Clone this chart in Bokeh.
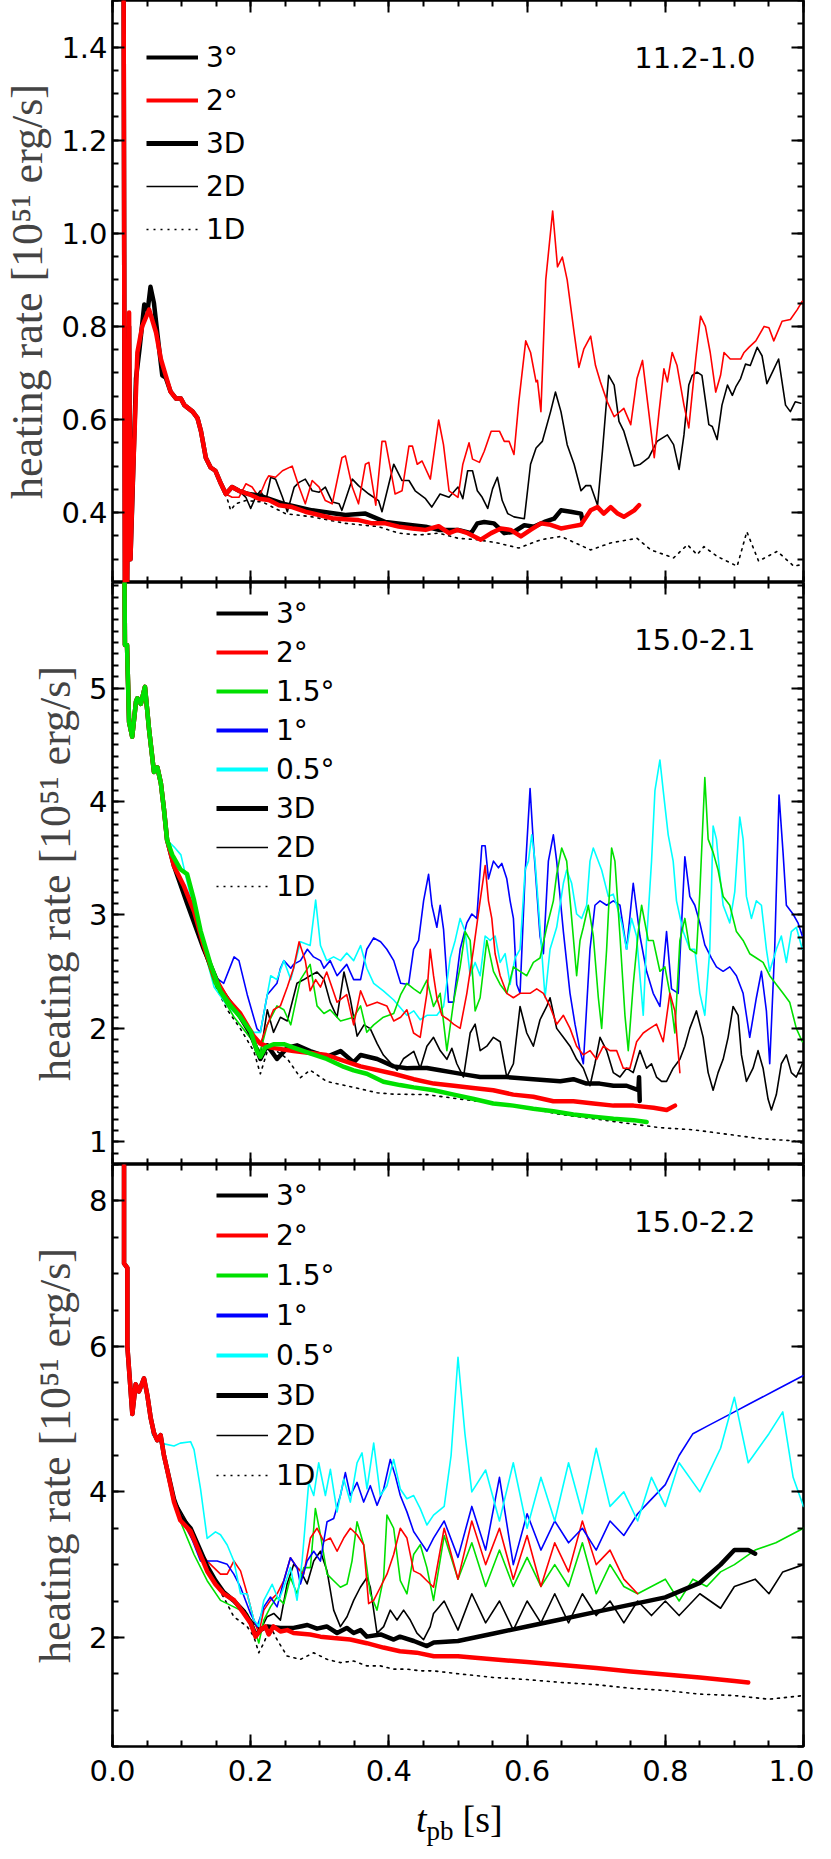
from bokeh.plotting import figure
from bokeh.layouts import column
from bokeh.models import (Range1d, LinearAxis, FixedTicker, PrintfTickFormatter,
                          CustomJSTickFormatter, Label, Legend, LegendItem, Div)
from bokeh.core.properties import value
from bokeh.embed import file_html
from bokeh.resources import INLINE

# ---------------------------------------------------------------- data
PANEL_NAMES = ["11.2-1.0", "15.0-2.1", "15.0-2.2"]
Y_LIMITS = [(0.25, 1.5), (0.8, 5.93), (0.5, 8.5)]
Y_MAJOR = [[0.4, 0.6, 0.8, 1.0, 1.2, 1.4], [1, 2, 3, 4, 5], [2, 4, 6, 8]]
Y_MINOR_STEP = [0.05, 0.1, 0.5]
X_MAJOR = [0.0, 0.2, 0.4, 0.6, 0.8, 1.0]
X_MINOR_STEP = 0.05
Y_TITLE = "heating rate [10\u2075\u00b9 erg/s]"
X_TITLE_PARTS = ["t", "pb", "[s]"]

# ---- panel 1 : 11.2-1.0
P1_RED3D = [(0.016, 1.60), (0.018, 0.20), (0.021, 0.20), (0.024, 0.83), (0.026, 0.30), (0.029, 0.45),
            (0.036, 0.744), (0.043, 0.80), (0.053, 0.836), (0.063, 0.787), (0.070, 0.73), (0.077, 0.695),
            (0.084, 0.66), (0.092, 0.645), (0.099, 0.645), (0.104, 0.631), (0.116, 0.617), (0.123, 0.603),
            (0.128, 0.575), (0.135, 0.518), (0.142, 0.497), (0.149, 0.49), (0.157, 0.462), (0.164, 0.44),
            (0.173, 0.455), (0.183, 0.447), (0.197, 0.44), (0.212, 0.43), (0.226, 0.427), (0.241, 0.416),
            (0.260, 0.412), (0.279, 0.402), (0.299, 0.395), (0.318, 0.388), (0.337, 0.386), (0.356, 0.384),
            (0.376, 0.377), (0.395, 0.377), (0.414, 0.37), (0.434, 0.366), (0.453, 0.363), (0.472, 0.371),
            (0.487, 0.356), (0.499, 0.363), (0.514, 0.356), (0.533, 0.342), (0.548, 0.356), (0.562, 0.366),
            (0.576, 0.363), (0.591, 0.349), (0.605, 0.363), (0.620, 0.377), (0.634, 0.374), (0.649, 0.366),
            (0.663, 0.37), (0.678, 0.374), (0.692, 0.405), (0.702, 0.412), (0.711, 0.398), (0.721, 0.412),
            (0.731, 0.398), (0.740, 0.391), (0.755, 0.405), (0.762, 0.416)]
P1_BLK3D = [(0.016, 1.6), (0.018, 0.2), (0.021, 0.2), (0.024, 0.8), (0.026, 0.3), (0.029, 0.44),
            (0.034, 0.688), (0.039, 0.75), (0.046, 0.847), (0.051, 0.836), (0.055, 0.885), (0.060, 0.85),
            (0.067, 0.758), (0.072, 0.695), (0.077, 0.69), (0.084, 0.66), (0.092, 0.645), (0.099, 0.645),
            (0.104, 0.631), (0.116, 0.617), (0.123, 0.603), (0.128, 0.575), (0.135, 0.518), (0.142, 0.497),
            (0.149, 0.49), (0.157, 0.462), (0.164, 0.44), (0.173, 0.455), (0.183, 0.447), (0.197, 0.44),
            (0.212, 0.437), (0.25, 0.418), (0.289, 0.405), (0.337, 0.395), (0.366, 0.398), (0.395, 0.38),
            (0.434, 0.373), (0.453, 0.37), (0.472, 0.363), (0.5, 0.363), (0.519, 0.356), (0.528, 0.377),
            (0.538, 0.38), (0.552, 0.377), (0.567, 0.356), (0.581, 0.359), (0.596, 0.373), (0.61, 0.37),
            (0.625, 0.38), (0.639, 0.387), (0.649, 0.405), (0.663, 0.402), (0.678, 0.398), (0.68, 0.384)]
P1_RED2D = [(0.173, 0.433), (0.183, 0.433), (0.193, 0.462), (0.202, 0.455), (0.212, 0.433), (0.222, 0.469),
            (0.226, 0.479), (0.236, 0.476), (0.246, 0.49), (0.26, 0.5), (0.27, 0.455), (0.279, 0.419),
            (0.289, 0.469), (0.299, 0.455), (0.308, 0.426), (0.318, 0.419), (0.332, 0.518), (0.337, 0.522),
            (0.347, 0.455), (0.356, 0.419), (0.366, 0.504), (0.371, 0.508), (0.381, 0.416), (0.39, 0.553),
            (0.395, 0.553), (0.409, 0.44), (0.419, 0.447), (0.429, 0.543), (0.434, 0.543), (0.441, 0.504),
            (0.448, 0.511), (0.46, 0.472), (0.472, 0.599), (0.479, 0.546), (0.487, 0.447), (0.5, 0.433),
            (0.507, 0.504), (0.516, 0.55), (0.521, 0.515), (0.531, 0.508), (0.538, 0.532), (0.548, 0.575),
            (0.56, 0.575), (0.567, 0.553), (0.574, 0.553), (0.581, 0.525), (0.588, 0.638), (0.598, 0.769),
            (0.605, 0.744), (0.613, 0.681), (0.615, 0.684), (0.62, 0.617), (0.627, 0.9), (0.637, 1.048),
            (0.644, 0.928), (0.651, 0.949), (0.658, 0.9), (0.668, 0.787), (0.675, 0.712), (0.682, 0.751),
            (0.692, 0.779), (0.699, 0.716), (0.706, 0.681), (0.716, 0.638), (0.726, 0.606), (0.74, 0.624),
            (0.75, 0.589), (0.759, 0.688), (0.767, 0.727), (0.776, 0.617), (0.784, 0.518), (0.791, 0.617),
            (0.798, 0.709), (0.803, 0.681), (0.81, 0.744), (0.817, 0.716), (0.827, 0.631), (0.834, 0.582),
            (0.844, 0.73), (0.851, 0.822), (0.858, 0.8), (0.865, 0.744), (0.873, 0.659), (0.88, 0.695),
            (0.885, 0.744), (0.894, 0.73), (0.909, 0.73), (0.914, 0.744), (0.921, 0.755), (0.931, 0.769),
            (0.943, 0.8), (0.95, 0.797), (0.957, 0.769), (0.969, 0.811), (0.981, 0.815), (0.991, 0.836),
            (0.998, 0.854)]
P1_BLK2D = [(0.173, 0.455), (0.183, 0.447), (0.193, 0.433), (0.2, 0.409), (0.207, 0.433), (0.214, 0.447),
            (0.222, 0.426), (0.229, 0.476), (0.236, 0.472), (0.246, 0.433), (0.253, 0.402), (0.263, 0.455),
            (0.27, 0.465), (0.279, 0.472), (0.289, 0.447), (0.299, 0.444), (0.308, 0.455), (0.318, 0.423),
            (0.328, 0.419), (0.332, 0.405), (0.347, 0.472), (0.356, 0.458), (0.371, 0.44), (0.385, 0.426),
            (0.39, 0.402), (0.4, 0.462), (0.407, 0.504), (0.419, 0.469), (0.429, 0.469), (0.438, 0.447),
            (0.453, 0.43), (0.462, 0.412), (0.474, 0.44), (0.487, 0.433), (0.5, 0.455), (0.507, 0.43),
            (0.514, 0.49), (0.521, 0.49), (0.528, 0.447), (0.535, 0.433), (0.543, 0.409), (0.55, 0.451),
            (0.557, 0.476), (0.564, 0.426), (0.572, 0.398), (0.581, 0.391), (0.596, 0.387), (0.605, 0.504),
            (0.613, 0.539), (0.622, 0.553), (0.634, 0.617), (0.641, 0.659), (0.649, 0.617), (0.658, 0.546),
            (0.668, 0.504), (0.678, 0.447), (0.685, 0.458), (0.692, 0.458), (0.702, 0.416), (0.709, 0.532),
            (0.718, 0.695), (0.726, 0.674), (0.733, 0.596), (0.74, 0.575), (0.75, 0.525), (0.755, 0.5),
            (0.764, 0.504), (0.776, 0.518), (0.788, 0.553), (0.803, 0.567), (0.812, 0.546), (0.82, 0.493),
            (0.827, 0.567), (0.834, 0.674), (0.839, 0.695), (0.846, 0.702), (0.853, 0.695), (0.863, 0.589),
            (0.868, 0.585), (0.875, 0.557), (0.882, 0.631), (0.89, 0.674), (0.897, 0.652), (0.902, 0.67),
            (0.909, 0.688), (0.916, 0.719), (0.923, 0.716), (0.933, 0.755), (0.94, 0.737), (0.947, 0.677),
            (0.955, 0.702), (0.964, 0.73), (0.974, 0.631), (0.981, 0.617), (0.988, 0.638), (0.996, 0.635)]
P1_DOT1D = [(0.171, 0.405), (0.178, 0.419), (0.193, 0.426), (0.217, 0.423), (0.241, 0.405), (0.25, 0.398),
            (0.289, 0.391), (0.337, 0.377), (0.385, 0.37), (0.414, 0.356), (0.443, 0.352), (0.472, 0.356),
            (0.5, 0.345), (0.528, 0.342), (0.557, 0.335), (0.588, 0.324), (0.62, 0.342), (0.649, 0.349),
            (0.692, 0.32), (0.721, 0.335), (0.759, 0.345), (0.779, 0.32), (0.812, 0.303), (0.832, 0.331),
            (0.846, 0.31), (0.856, 0.327), (0.875, 0.306), (0.904, 0.285), (0.918, 0.359), (0.935, 0.296),
            (0.962, 0.317), (0.986, 0.285), (0.999, 0.289)]

# ---- panel 2 : 15.0-2.1
P2_EARLY = [(0.017, 6.3), (0.018, 5.38), (0.021, 5.38), (0.024, 4.7), (0.0285, 4.57), (0.034, 4.88),
            (0.036, 4.91), (0.041, 4.86), (0.047, 5.01), (0.053, 4.63), (0.06, 4.26), (0.065, 4.3),
            (0.07, 4.16), (0.0745, 3.93), (0.079, 3.66)]
P2_GREEN3D = [(0.0865, 3.53), (0.0986, 3.40), (0.108, 3.36), (0.118, 3.13), (0.1275, 2.86), (0.142, 2.56),
              (0.156, 2.33), (0.171, 2.2), (0.185, 2.1), (0.2, 1.97), (0.209, 1.8), (0.214, 1.75),
              (0.221, 1.83), (0.233, 1.86), (0.248, 1.86), (0.262, 1.83), (0.286, 1.78), (0.31, 1.73),
              (0.335, 1.66), (0.349, 1.63), (0.368, 1.6), (0.392, 1.53), (0.416, 1.5), (0.436, 1.48),
              (0.465, 1.455), (0.494, 1.416), (0.523, 1.377), (0.551, 1.338), (0.58, 1.319), (0.609, 1.292),
              (0.638, 1.269), (0.667, 1.241), (0.696, 1.222), (0.725, 1.203), (0.754, 1.191), (0.773, 1.175)]
P2_RED3D = [(0.089, 3.43), (0.103, 3.26), (0.118, 3.03), (0.132, 2.73), (0.147, 2.46), (0.166, 2.26),
            (0.185, 2.13), (0.2045, 1.93), (0.214, 1.865), (0.229, 1.83), (0.262, 1.80), (0.31, 1.765),
            (0.359, 1.665), (0.407, 1.6), (0.436, 1.552), (0.465, 1.513), (0.494, 1.494), (0.522, 1.474),
            (0.551, 1.455), (0.58, 1.416), (0.609, 1.397), (0.638, 1.358), (0.667, 1.358), (0.696, 1.338),
            (0.725, 1.319), (0.754, 1.319), (0.783, 1.3), (0.802, 1.28), (0.814, 1.319)]
P2_BLK3D = [(0.089, 3.43), (0.108, 3.1), (0.132, 2.7), (0.156, 2.35), (0.185, 2.1), (0.2, 1.95),
            (0.214, 1.73), (0.224, 1.85), (0.238, 1.73), (0.253, 1.83), (0.267, 1.85), (0.286, 1.8),
            (0.31, 1.75), (0.33, 1.8), (0.349, 1.7), (0.359, 1.765), (0.383, 1.73), (0.407, 1.665),
            (0.426, 1.649), (0.436, 1.65), (0.455, 1.65), (0.474, 1.63), (0.494, 1.61), (0.513, 1.59),
            (0.532, 1.571), (0.551, 1.571), (0.57, 1.571), (0.609, 1.552), (0.648, 1.533), (0.667, 1.552),
            (0.686, 1.513), (0.705, 1.513), (0.725, 1.494), (0.744, 1.494), (0.761, 1.455), (0.762, 1.57),
            (0.763, 1.36)]
P2_BLUE2D = [(0.089, 3.43), (0.103, 3.26), (0.118, 3.03), (0.132, 2.73), (0.147, 2.46), (0.161, 2.397),
             (0.176, 2.63), (0.183, 2.597), (0.195, 2.297), (0.209, 1.998), (0.214, 1.965), (0.224, 2.297),
             (0.238, 2.397), (0.243, 2.53), (0.248, 2.597), (0.258, 2.53), (0.262, 2.564), (0.272, 2.597),
             (0.282, 2.697), (0.291, 2.63), (0.301, 2.597), (0.306, 2.53), (0.315, 2.597), (0.325, 2.464),
             (0.339, 2.564), (0.349, 2.43), (0.359, 2.43), (0.368, 2.697), (0.378, 2.797), (0.388, 2.763),
             (0.397, 2.697), (0.407, 2.597), (0.417, 2.397), (0.4285, 2.387), (0.4357, 2.697), (0.443, 2.775),
             (0.4502, 3.124), (0.4574, 3.357), (0.4622, 3.085), (0.4694, 2.891), (0.4742, 3.085),
             (0.4791, 2.872), (0.4863, 2.231), (0.4935, 2.231), (0.5031, 2.697), (0.5128, 2.93), (0.52, 3.008),
             (0.5272, 2.969), (0.5345, 3.61), (0.5393, 3.61), (0.5441, 3.318), (0.5513, 3.474), (0.5585, 3.415),
             (0.5634, 3.454), (0.5706, 3.318), (0.5754, 3.124), (0.5802, 2.969), (0.585, 2.387), (0.5898, 2.309),
             (0.5971, 3.357), (0.6043, 4.114), (0.6091, 3.629), (0.6187, 2.814), (0.6236, 2.658), (0.6308, 3.474),
             (0.638, 3.706), (0.6428, 3.474), (0.6525, 2.853), (0.6621, 2.309), (0.6693, 2.037), (0.6766, 1.804),
             (0.6814, 1.688), (0.691, 2.697), (0.6982, 3.085), (0.7055, 3.124), (0.7151, 3.085), (0.7247, 3.124),
             (0.7344, 3.085), (0.744, 2.697), (0.7536, 3.279), (0.7633, 2.814), (0.7729, 2.503), (0.7825, 2.309),
             (0.7922, 2.193), (0.8018, 2.853), (0.809, 2.348), (0.8187, 2.309), (0.8283, 3.513), (0.8355, 3.163),
             (0.8427, 3.085), (0.85, 2.93), (0.8572, 2.736), (0.8668, 2.62), (0.874, 2.542), (0.8837, 2.503),
             (0.8933, 2.542), (0.9029, 2.464), (0.9126, 2.309), (0.9222, 1.921), (0.9318, 2.27), (0.9391, 2.503),
             (0.9463, 2.154), (0.9511, 1.688), (0.9583, 2.697), (0.9646, 4.056), (0.9704, 3.551), (0.9752, 3.085),
             (0.9848, 3.008), (0.992, 2.93), (0.9983, 2.814)]
P2_CYAN2D = [(0.089, 3.6), (0.099, 3.529), (0.118, 3.03), (0.147, 2.364), (0.166, 2.198), (0.185, 2.098),
             (0.2045, 1.965), (0.214, 1.965), (0.229, 2.464), (0.238, 2.43), (0.248, 2.597), (0.258, 2.43),
             (0.272, 2.763), (0.286, 2.73), (0.294, 3.13), (0.301, 2.73), (0.31, 2.597), (0.32, 2.63),
             (0.33, 2.597), (0.339, 2.664), (0.349, 2.597), (0.359, 2.73), (0.368, 2.53), (0.378, 2.397),
             (0.392, 2.331), (0.407, 2.25), (0.426, 2.115), (0.436, 2.154), (0.4453, 2.076), (0.455, 2.115),
             (0.4694, 2.115), (0.4791, 2.193), (0.4887, 2.62), (0.4959, 2.775), (0.5031, 2.969), (0.5104, 2.853),
             (0.5176, 2.464), (0.5248, 2.581), (0.5321, 2.464), (0.5393, 2.814), (0.5465, 2.775), (0.5537, 2.814),
             (0.561, 2.581), (0.5682, 2.658), (0.5754, 2.387), (0.5826, 2.62), (0.5898, 2.697), (0.5971, 3.396),
             (0.6019, 3.474), (0.6067, 3.706), (0.6115, 3.474), (0.6187, 2.891), (0.626, 2.27), (0.6332, 2.697),
             (0.6428, 2.891), (0.6525, 3.279), (0.6573, 3.396), (0.6645, 3.279), (0.6717, 3.008), (0.6789, 2.969),
             (0.6862, 3.085), (0.691, 3.474), (0.6958, 3.59), (0.7006, 3.513), (0.7079, 3.396), (0.7175, 3.163),
             (0.7247, 3.183), (0.7296, 3.085), (0.7368, 2.93), (0.744, 2.697), (0.7512, 2.969), (0.7584, 2.814),
             (0.7681, 2.115), (0.7729, 2.775), (0.7801, 3.474), (0.785, 4.095), (0.7922, 4.366), (0.797, 4.095),
             (0.8042, 3.706), (0.8114, 3.474), (0.8162, 3.124), (0.8259, 2.853), (0.8355, 2.697), (0.8427, 2.697),
             (0.85, 2.309), (0.8572, 2.115), (0.8644, 2.697), (0.8692, 3.784), (0.874, 3.668), (0.8788, 3.357),
             (0.8837, 3.085), (0.8885, 3.008), (0.8933, 2.93), (0.9005, 3.202), (0.9078, 3.862), (0.9126, 3.668),
             (0.9174, 3.163), (0.9246, 2.969), (0.9318, 3.124), (0.9391, 3.085), (0.9463, 2.697), (0.9511, 2.503),
             (0.9607, 2.697), (0.9679, 2.814), (0.9752, 2.581), (0.9824, 2.853), (0.9896, 2.891), (0.9983, 2.697)]
P2_GREEN2D = [(0.089, 3.43), (0.103, 3.2), (0.118, 2.95), (0.147, 2.40), (0.176, 2.098), (0.195, 1.95),
              (0.214, 1.798), (0.224, 2.031), (0.238, 2.198), (0.248, 2.164), (0.258, 2.031), (0.272, 2.43),
              (0.286, 2.564), (0.296, 2.198), (0.306, 2.131), (0.315, 2.164), (0.33, 2.065), (0.349, 2.098),
              (0.359, 2.198), (0.368, 1.965), (0.378, 2.031), (0.392, 2.098), (0.407, 2.131), (0.417, 2.297),
              (0.426, 2.397), (0.436, 2.348), (0.4453, 2.309), (0.455, 2.425), (0.4646, 2.193), (0.4742, 2.309),
              (0.4839, 1.804), (0.4935, 2.231), (0.5031, 2.542), (0.5104, 2.853), (0.5176, 2.775), (0.5248, 2.154),
              (0.532, 2.27), (0.5417, 2.775), (0.5513, 2.503), (0.561, 2.387), (0.5706, 2.309), (0.5802, 2.542),
              (0.5898, 2.503), (0.5995, 2.464), (0.6091, 2.581), (0.6187, 2.62), (0.6284, 2.891), (0.638, 3.124),
              (0.6428, 3.357), (0.6501, 3.59), (0.6573, 3.474), (0.6645, 2.969), (0.6717, 2.464), (0.6766, 2.775),
              (0.6814, 2.891), (0.6886, 3.085), (0.6958, 2.814), (0.7031, 2.27), (0.7079, 2.0), (0.7151, 2.697),
              (0.7223, 3.59), (0.7271, 3.474), (0.7344, 2.814), (0.7416, 2.115), (0.7464, 1.804), (0.7536, 2.387),
              (0.7609, 2.853), (0.7657, 3.085), (0.7753, 2.775), (0.7825, 2.775), (0.7922, 2.503), (0.7994, 2.542),
              (0.8066, 2.309), (0.8138, 1.959), (0.8211, 2.775), (0.8283, 2.969), (0.8355, 2.697), (0.8451, 2.658),
              (0.85, 3.202), (0.8572, 4.211), (0.862, 3.668), (0.8692, 3.551), (0.8764, 3.396), (0.8837, 3.163),
              (0.8933, 3.085), (0.9029, 2.853), (0.9126, 2.775), (0.9222, 2.658), (0.9318, 2.62), (0.9415, 2.581),
              (0.9511, 2.464), (0.9607, 2.387), (0.9704, 2.309), (0.98, 2.231), (0.9896, 2.0), (0.9983, 1.882)]
P2_RED2D = [(0.089, 3.43), (0.103, 3.26), (0.118, 3.03), (0.132, 2.73), (0.147, 2.46), (0.166, 2.26),
            (0.185, 2.13), (0.2045, 1.93), (0.214, 1.865), (0.224, 2.031), (0.233, 2.164), (0.243, 2.198),
            (0.253, 2.364), (0.262, 2.53), (0.27, 2.763), (0.279, 2.597), (0.286, 2.331), (0.294, 2.43),
            (0.301, 2.364), (0.31, 2.497), (0.325, 2.231), (0.339, 2.297), (0.349, 2.031), (0.359, 2.331),
            (0.368, 2.198), (0.383, 2.231), (0.397, 2.198), (0.407, 2.065), (0.417, 2.098), (0.426, 2.164),
            (0.4357, 1.959), (0.4453, 1.921), (0.455, 2.309), (0.4598, 2.697), (0.4646, 2.464), (0.4694, 2.27),
            (0.4766, 2.115), (0.4863, 2.076), (0.4935, 2.037), (0.5031, 2.0), (0.5128, 2.309), (0.5224, 2.697),
            (0.532, 3.124), (0.5393, 3.435), (0.5441, 3.124), (0.5489, 2.969), (0.5537, 2.658), (0.561, 2.464),
            (0.5706, 2.309), (0.5802, 2.27), (0.5898, 2.309), (0.6043, 2.309), (0.6139, 2.348), (0.6236, 2.309),
            (0.6332, 2.193), (0.6428, 2.037), (0.6525, 2.115), (0.6621, 2.0), (0.6717, 1.843), (0.6814, 1.766),
            (0.691, 1.804), (0.7006, 1.727), (0.7103, 1.843), (0.7199, 1.804), (0.7296, 1.804), (0.7392, 1.649),
            (0.7488, 1.649), (0.7585, 1.882), (0.7681, 1.959), (0.7777, 2.0), (0.7873, 2.037), (0.797, 1.882),
            (0.8066, 2.309), (0.8138, 2.154), (0.8211, 1.61)]
P2_BLK2D = [(0.089, 3.43), (0.108, 3.1), (0.132, 2.7), (0.156, 2.35), (0.185, 2.1), (0.2, 1.95),
            (0.214, 1.765), (0.224, 2.164), (0.233, 1.965), (0.243, 2.098), (0.253, 2.065), (0.267, 2.397),
            (0.277, 2.43), (0.286, 2.464), (0.296, 2.497), (0.306, 2.43), (0.315, 2.231), (0.325, 2.098),
            (0.335, 2.497), (0.344, 2.264), (0.354, 1.931), (0.364, 2.031), (0.373, 1.998), (0.383, 1.865),
            (0.392, 1.765), (0.402, 1.698), (0.412, 1.632), (0.421, 1.732), (0.436, 1.798), (0.4453, 1.649),
            (0.455, 1.843), (0.4646, 1.921), (0.4742, 1.804), (0.4839, 1.727), (0.4911, 1.824), (0.4983, 1.688),
            (0.5079, 1.571), (0.5176, 1.959), (0.5248, 2.037), (0.5321, 1.804), (0.5417, 1.843), (0.5513, 1.921),
            (0.561, 1.882), (0.5706, 1.571), (0.5802, 1.688), (0.5898, 2.193), (0.5995, 1.959), (0.6091, 1.843),
            (0.6187, 2.076), (0.6284, 2.193), (0.6332, 2.27), (0.6428, 2.0), (0.6525, 1.921), (0.6621, 1.843),
            (0.6717, 1.727), (0.6814, 1.649), (0.691, 1.494), (0.6982, 1.688), (0.7055, 1.921), (0.7151, 1.804),
            (0.7247, 1.61), (0.7344, 1.571), (0.744, 1.649), (0.7536, 1.61), (0.7633, 1.804), (0.7729, 1.649),
            (0.78, 1.688), (0.7873, 1.571), (0.7946, 1.533), (0.8018, 1.533), (0.8114, 1.649), (0.8211, 1.727),
            (0.8283, 1.843), (0.8355, 2.0), (0.8451, 2.154), (0.8548, 1.921), (0.862, 1.61), (0.8692, 1.455),
            (0.8764, 1.61), (0.8837, 1.727), (0.8909, 1.921), (0.8981, 2.193), (0.9054, 2.115), (0.9102, 1.766),
            (0.9174, 1.533), (0.927, 1.649), (0.9342, 1.804), (0.9415, 1.649), (0.9487, 1.377), (0.9535, 1.28),
            (0.9607, 1.416), (0.9679, 1.688), (0.9752, 1.766), (0.9824, 1.61), (0.9896, 1.571), (0.9983, 1.688)]
P2_DOT1D = [(0.089, 3.43), (0.118, 3.0), (0.147, 2.4), (0.166, 2.164), (0.185, 1.998), (0.2045, 1.798),
            (0.214, 1.599), (0.224, 1.798), (0.238, 1.798), (0.253, 1.732), (0.272, 1.565), (0.286, 1.632),
            (0.31, 1.532), (0.335, 1.499), (0.359, 1.466), (0.383, 1.432), (0.407, 1.42), (0.455, 1.416),
            (0.503, 1.377), (0.551, 1.338), (0.6, 1.3), (0.648, 1.241), (0.696, 1.203), (0.744, 1.164),
            (0.792, 1.125), (0.84, 1.106), (0.889, 1.067), (0.937, 1.028), (0.985, 1.009), (0.998, 0.989)]

# ---- panel 3 : 15.0-2.2
P3_EARLY = [(0.0167, 8.7), (0.0167, 7.14), (0.0215, 7.08), (0.0215, 6.0), (0.0287, 5.07), (0.0335, 5.48),
            (0.0383, 5.38), (0.0456, 5.56), (0.0504, 5.33), (0.0552, 5.02), (0.06, 4.81), (0.0648, 4.71),
            (0.0696, 4.78), (0.0745, 4.5), (0.079, 4.31)]
P3_RED3D = [(0.089, 3.86), (0.098, 3.61), (0.113, 3.46), (0.127, 3.14), (0.137, 2.91), (0.149, 2.73),
            (0.161, 2.6), (0.176, 2.51), (0.19, 2.33), (0.2, 2.19), (0.207, 2.01), (0.214, 2.1), (0.221, 2.15),
            (0.226, 2.04), (0.233, 2.15), (0.243, 2.08), (0.253, 2.1), (0.262, 2.06), (0.286, 2.04),
            (0.301, 2.01), (0.32, 1.99), (0.344, 1.97), (0.368, 1.92), (0.392, 1.86), (0.416, 1.81),
            (0.44, 1.79), (0.465, 1.74), (0.5, 1.74), (0.55, 1.70), (0.6, 1.66), (0.65, 1.62), (0.7, 1.58),
            (0.75, 1.53), (0.8, 1.49), (0.85, 1.45), (0.9, 1.40), (0.92, 1.38)]
P3_BLK3D = [(0.089, 3.9), (0.098, 3.66), (0.113, 3.5), (0.127, 3.2), (0.137, 2.98), (0.149, 2.78),
            (0.161, 2.62), (0.176, 2.5), (0.19, 2.36), (0.2, 2.2), (0.207, 2.03), (0.214, 2.1), (0.224, 2.15),
            (0.243, 2.13), (0.262, 2.13), (0.272, 2.15), (0.282, 2.17), (0.296, 2.12), (0.31, 2.15),
            (0.325, 2.06), (0.339, 2.13), (0.349, 2.06), (0.359, 2.1), (0.368, 2.01), (0.388, 2.04),
            (0.407, 1.97), (0.416, 2.01), (0.436, 1.95), (0.455, 1.88), (0.465, 1.93), (0.5, 1.95),
            (0.55, 2.05), (0.6, 2.15), (0.65, 2.25), (0.7, 2.35), (0.75, 2.45), (0.8, 2.55), (0.85, 2.75),
            (0.88, 3.0), (0.9, 3.2), (0.92, 3.2), (0.93, 3.15)]
P3_CYAN2D = [(0.058, 4.78), (0.07, 4.67), (0.089, 4.63), (0.098, 4.67), (0.113, 4.69), (0.118, 4.58),
             (0.1274, 4.04), (0.137, 3.36), (0.149, 3.45), (0.1563, 3.41), (0.166, 3.27), (0.1756, 3.05),
             (0.1853, 2.6), (0.1949, 2.6), (0.2045, 2.24), (0.2117, 2.15), (0.219, 2.51), (0.231, 2.73),
             (0.2406, 2.51), (0.2479, 2.69), (0.2575, 2.96), (0.2671, 2.51), (0.2744, 3.05), (0.284, 4.13),
             (0.2912, 3.95), (0.2984, 4.4), (0.3081, 3.95), (0.3153, 4.31), (0.325, 3.725), (0.3346, 4.175),
             (0.3442, 3.86), (0.3539, 4.4), (0.3611, 4.536), (0.3683, 4.04), (0.378, 4.671), (0.3876, 3.95),
             (0.3972, 4.085), (0.4069, 4.446), (0.4165, 4.04), (0.4261, 3.905), (0.4358, 3.95), (0.4454, 3.77),
             (0.455, 3.545), (0.4646, 3.68), (0.48, 3.8), (0.49, 4.5), (0.5, 5.85), (0.51, 4.8), (0.52, 4.0),
             (0.54, 4.3), (0.56, 3.6), (0.58, 4.4), (0.6, 3.5), (0.62, 4.2), (0.64, 3.6), (0.66, 4.4),
             (0.68, 3.7), (0.7, 4.6), (0.72, 3.8), (0.74, 4.0), (0.76, 3.6), (0.78, 4.2), (0.8, 3.8),
             (0.82, 4.4), (0.85, 4.0), (0.88, 4.6), (0.9, 5.3), (0.92, 4.4), (0.95, 4.8), (0.97, 5.1),
             (0.985, 4.2), (1.0, 3.8)]
P3_BLUE2D = [(0.089, 3.9), (0.098, 3.7), (0.113, 3.4), (0.1274, 3.049), (0.1515, 3.049), (0.166, 3.004),
             (0.1756, 2.869), (0.1853, 2.689), (0.1997, 2.329), (0.2093, 2.148), (0.219, 2.419), (0.2286, 2.554),
             (0.2382, 2.419), (0.2479, 2.779), (0.2575, 3.094), (0.2671, 2.959), (0.272, 2.734), (0.2816, 3.049),
             (0.2912, 3.184), (0.3009, 3.049), (0.3105, 3.59), (0.3201, 3.635), (0.3298, 3.95), (0.337, 4.265),
             (0.3442, 3.95), (0.3539, 4.13), (0.3635, 3.86), (0.3731, 4.085), (0.3828, 3.815), (0.3924, 4.04),
             (0.402, 4.446), (0.4093, 4.22), (0.4165, 3.95), (0.4261, 3.725), (0.4358, 3.455), (0.4454, 3.32),
             (0.455, 3.184), (0.4646, 3.365), (0.48, 3.6), (0.5, 3.1), (0.52, 3.8), (0.54, 3.2), (0.56, 4.2),
             (0.58, 3.0), (0.6, 3.7), (0.62, 3.2), (0.64, 3.6), (0.66, 3.3), (0.68, 3.5), (0.7, 3.2),
             (0.72, 3.6), (0.74, 3.4), (0.76, 3.7), (0.78, 3.9), (0.8, 4.1), (0.82, 4.5), (0.84, 4.8),
             (0.86, 4.9), (0.88, 5.0), (0.9, 5.1), (0.92, 5.2), (0.94, 5.3), (0.96, 5.4), (0.98, 5.5), (1.0, 5.6)]
P3_GREEN2D = [(0.089, 3.85), (0.098, 3.6), (0.118, 3.139), (0.137, 2.779), (0.1563, 2.509), (0.1756, 2.419),
              (0.1949, 2.329), (0.2045, 2.148), (0.2117, 1.923), (0.219, 2.238), (0.2286, 2.419),
              (0.2382, 2.554), (0.2479, 2.464), (0.2575, 2.824), (0.2671, 2.599), (0.2768, 2.959),
              (0.2864, 2.959), (0.2936, 3.77), (0.3009, 3.41), (0.3105, 2.869), (0.3201, 2.779), (0.3298, 2.689),
              (0.3394, 2.734), (0.3466, 3.049), (0.3539, 3.59), (0.3635, 3.274), (0.3731, 2.599), (0.3828, 2.374),
              (0.3924, 2.824), (0.3972, 3.68), (0.4069, 3.5), (0.4165, 2.779), (0.4261, 2.599), (0.4358, 3.139),
              (0.4454, 3.274), (0.455, 2.959), (0.4646, 2.509), (0.48, 3.4), (0.5, 2.8), (0.52, 3.3),
              (0.54, 2.7), (0.56, 3.2), (0.58, 2.7), (0.6, 3.1), (0.62, 2.7), (0.64, 3.0), (0.66, 2.7),
              (0.68, 3.3), (0.7, 2.6), (0.72, 3.0), (0.74, 2.7), (0.76, 2.6), (0.78, 2.7), (0.8, 2.8),
              (0.82, 2.5), (0.84, 2.8), (0.86, 2.7), (0.88, 2.9), (0.9, 3.0), (0.93, 3.2), (0.96, 3.3), (1.0, 3.5)]
P3_RED2D = [(0.089, 3.88), (0.098, 3.65), (0.118, 3.3), (0.137, 3.049), (0.1563, 2.869), (0.166, 2.869),
            (0.1756, 3.049), (0.1853, 2.914), (0.1949, 2.599), (0.2045, 2.238), (0.2117, 2.058), (0.219, 2.374),
            (0.2286, 2.509), (0.2382, 2.599), (0.2479, 2.779), (0.2575, 3.094), (0.2671, 2.959), (0.2768, 2.869),
            (0.2864, 3.365), (0.296, 3.5), (0.3057, 3.32), (0.3153, 3.365), (0.325, 3.184), (0.3346, 3.365),
            (0.3442, 3.5), (0.3539, 3.41), (0.3635, 3.274), (0.3707, 2.464), (0.378, 2.509), (0.3876, 2.689),
            (0.3972, 2.869), (0.4069, 3.139), (0.4165, 3.5), (0.4261, 3.365), (0.4358, 2.914), (0.4454, 2.869),
            (0.455, 2.779), (0.4646, 2.689), (0.48, 3.5), (0.5, 2.8), (0.52, 3.6), (0.54, 3.0), (0.56, 3.5),
            (0.58, 2.8), (0.6, 3.4), (0.62, 2.7), (0.64, 3.3), (0.66, 2.9), (0.68, 3.6), (0.7, 3.0),
            (0.72, 3.2), (0.74, 2.8), (0.76, 2.6)]
P3_BLK2D = [(0.089, 3.9), (0.113, 3.5), (0.137, 2.98), (0.161, 2.62), (0.19, 2.36), (0.2045, 2.193),
            (0.2142, 2.103), (0.2238, 2.284), (0.2334, 2.329), (0.243, 2.238), (0.2527, 2.734), (0.2623, 3.004),
            (0.272, 2.914), (0.2816, 2.734), (0.2912, 3.049), (0.3009, 3.184), (0.3105, 2.914), (0.3201, 2.374),
            (0.3298, 2.148), (0.3394, 2.284), (0.349, 2.509), (0.3587, 2.689), (0.3683, 2.824), (0.3731, 2.689),
            (0.3828, 2.058), (0.3924, 2.148), (0.402, 2.374), (0.4117, 2.238), (0.4213, 2.374), (0.431, 2.238),
            (0.4406, 2.058), (0.4502, 1.968), (0.4598, 2.148), (0.4646, 2.329), (0.48, 2.5), (0.5, 2.1),
            (0.52, 2.6), (0.54, 2.2), (0.56, 2.5), (0.58, 2.1), (0.6, 2.5), (0.62, 2.2), (0.64, 2.6),
            (0.66, 2.2), (0.68, 2.6), (0.7, 2.3), (0.72, 2.5), (0.74, 2.2), (0.76, 2.5), (0.78, 2.3),
            (0.8, 2.5), (0.82, 2.3), (0.85, 2.6), (0.88, 2.4), (0.9, 2.7), (0.93, 2.8), (0.95, 2.6),
            (0.97, 2.9), (1.0, 3.0)]
P3_DOT1D = [(0.089, 3.86), (0.113, 3.46), (0.137, 2.91), (0.161, 2.55), (0.1756, 2.284), (0.1949, 2.148),
            (0.2045, 2.013), (0.2117, 1.788), (0.219, 1.923), (0.2286, 2.148), (0.2382, 1.968), (0.2527, 1.743),
            (0.272, 1.698), (0.2912, 1.788), (0.3105, 1.698), (0.3298, 1.653), (0.349, 1.675), (0.3683, 1.608),
            (0.3876, 1.608), (0.4069, 1.563), (0.4261, 1.563), (0.4454, 1.54), (0.4646, 1.54), (0.5, 1.5),
            (0.55, 1.45), (0.6, 1.42), (0.65, 1.38), (0.7, 1.35), (0.75, 1.3), (0.8, 1.27), (0.85, 1.22),
            (0.9, 1.2), (0.95, 1.15), (1.0, 1.2)]

# ---------------------------------------------------------------- styling
BLACK, RED, GREEN, BLUE, CYAN = "#000000", "#ff0000", "#00e000", "#0000ff", "#00ffff"
SANS = "DejaVu Sans"
SERIF = "Liberation Serif"
FRAME_W = 691
FRAME_H = 582
LEFT_B = 111
RIGHT_B = 12
FIG_W = LEFT_B + FRAME_W + RIGHT_B
THICK, THIN = 4.5, 1.6
NAN = float("nan")


def xy(pairs):
    return [a for a, _ in pairs], [b for _, b in pairs]


def steps(lo, hi, step):
    n = int(round((hi - lo) / step))
    return [round(lo + i * step, 4) for i in range(n + 1)]


def styled_axis(ticks, minor, fmt=None, font_size="29px", standoff=5):
    ax = LinearAxis(ticker=FixedTicker(ticks=ticks, minor_ticks=minor))
    ax.axis_line_color = None
    ax.major_tick_in, ax.major_tick_out = 12, 0
    ax.minor_tick_in, ax.minor_tick_out = 6, 0
    ax.major_tick_line_width = 2
    ax.minor_tick_line_width = 2
    if fmt is None:
        ax.formatter = CustomJSTickFormatter(code="return ''")
        ax.major_label_text_font_size = "0px"
        ax.major_label_standoff = 0
    else:
        ax.formatter = PrintfTickFormatter(format=fmt)
        ax.major_label_text_font = SANS
        ax.major_label_text_font_size = font_size
        ax.major_label_text_color = "black"
        ax.major_label_standoff = standoff
    return ax


def make_panel(i, bottom_border):
    ylo, yhi = Y_LIMITS[i]
    p = figure(frame_width=FRAME_W, frame_height=FRAME_H,
               x_range=Range1d(0, 1), y_range=Range1d(ylo, yhi),
               output_backend="svg", toolbar_location=None,
               x_axis_location=None, y_axis_location=None,
               min_border_left=LEFT_B, min_border_right=RIGHT_B,
               min_border_top=0, min_border_bottom=bottom_border)
    p.grid.visible = False
    p.outline_line_color = "black"
    p.outline_line_width = 2.6
    p.background_fill_color = "white"
    p.border_fill_color = "white"

    xminor = steps(0, 1, X_MINOR_STEP)
    lo_tick = round(ylo / Y_MINOR_STEP[i] + 0.4999) * Y_MINOR_STEP[i]
    yminor = steps(lo_tick, yhi, Y_MINOR_STEP[i])
    fmt = "%.1f" if i == 0 else "%d"

    left = styled_axis(Y_MAJOR[i], yminor, fmt)
    left.axis_label = Y_TITLE
    left.axis_label_text_font = SERIF
    left.axis_label_text_font_size = "44px"
    left.axis_label_text_font_style = "normal"
    left.axis_label_standoff = 6
    p.add_layout(left, "left")
    p.add_layout(styled_axis(Y_MAJOR[i], yminor), "right")
    p.add_layout(styled_axis(X_MAJOR, xminor), "above")
    if i == 2:
        p.add_layout(styled_axis(X_MAJOR, xminor, "%.1f", standoff=13), "below")
    else:
        p.add_layout(styled_axis(X_MAJOR, xminor), "below")

    p.add_layout(Label(x=643, y=FRAME_H - 57, x_units="screen", y_units="screen",
                       text=PANEL_NAMES[i], text_align="right", text_baseline="middle",
                       text_font=SANS, text_font_size="29px", text_color="black"))
    return p


def draw(p, pairs, color, width, dash="solid"):
    xs, ys = xy(pairs)
    p.line(xs, ys, line_color=color, line_width=width, line_dash=dash,
           line_join="round", line_cap="round")


def add_legend(p, entries, x, top, pitch):
    items = []
    h = 34
    for label, color, width, dash in entries:
        r = p.line(x=[NAN], y=[NAN], line_color=color, line_width=width, line_dash=dash)
        items.append(LegendItem(label=value(label), renderers=[r]))
    n = len(entries)
    spacing = int(round(pitch - h))
    total = n * h + (n - 1) * spacing
    leg = Legend(items=items, location=(x, FRAME_H - top - total),
                 glyph_width=52, glyph_height=h, label_height=h, label_width=20,
                 label_standoff=8, spacing=spacing, padding=0, margin=0,
                 border_line_color=None, background_fill_alpha=0,
                 label_text_font=SANS, label_text_font_size="28px",
                 label_text_color="black")
    p.add_layout(leg)


# ---------------------------------------------------------------- panel 1
p1 = make_panel(0, 0)
early1r = [q for q in P1_RED3D if q[0] < 0.165]
early1b = [q for q in P1_BLK3D if q[0] < 0.165]
draw(p1, early1r + P1_DOT1D, BLACK, 1.6, "2 5")
draw(p1, early1b + P1_BLK2D, BLACK, THIN)
draw(p1, early1r + P1_RED2D, RED, THIN)
draw(p1, P1_BLK3D, BLACK, THICK)
draw(p1, P1_RED3D, RED, THICK)
add_legend(p1, [("3\u00b0", BLACK, 4, "solid"), ("2\u00b0", RED, 4, "solid"),
                ("3D", BLACK, 5, "solid"), ("2D", BLACK, 1.5, "solid"),
                ("1D", BLACK, 1.6, "2 5")], 34, 40, 43.3)

# ---------------------------------------------------------------- panel 2
p2 = make_panel(1, 0)
draw(p2, P2_EARLY + P2_DOT1D, BLACK, 1.6, "2 5")
draw(p2, P2_EARLY + P2_BLK2D, BLACK, THIN)
draw(p2, P2_EARLY + P2_BLUE2D, BLUE, THIN)
draw(p2, P2_EARLY + P2_CYAN2D, CYAN, THIN)
draw(p2, P2_EARLY + P2_GREEN2D, GREEN, THIN)
draw(p2, P2_EARLY + P2_RED2D, RED, THIN)
draw(p2, P2_EARLY + P2_BLK3D, BLACK, THICK)
draw(p2, P2_EARLY + P2_RED3D, RED, THICK)
draw(p2, P2_EARLY + P2_GREEN3D, GREEN, THICK)

ENTRIES23 = [("3\u00b0", BLACK, 4, "solid"), ("2\u00b0", RED, 4, "solid"),
             ("1.5\u00b0", GREEN, 4, "solid"), ("1\u00b0", BLUE, 4, "solid"),
             ("0.5\u00b0", CYAN, 4, "solid"), ("3D", BLACK, 5, "solid"),
             ("2D", BLACK, 1.5, "solid"), ("1D", BLACK, 1.6, "2 5")]
add_legend(p2, ENTRIES23, 104, 14, 39.3)

# ---------------------------------------------------------------- panel 3
p3 = make_panel(2, 48)
e3 = P3_EARLY
draw(p3, e3 + P3_DOT1D, BLACK, 1.6, "2 5")
draw(p3, e3 + P3_BLK2D, BLACK, THIN)
draw(p3, e3 + P3_GREEN2D, GREEN, THIN)
draw(p3, e3 + P3_RED2D, RED, THIN)
draw(p3, e3 + P3_BLUE2D, BLUE, THIN)
draw(p3, [q for q in e3 if q[0] < 0.056] + P3_CYAN2D, CYAN, THIN)
draw(p3, e3 + P3_BLK3D, BLACK, THICK)
draw(p3, e3 + P3_RED3D, RED, THICK)
add_legend(p3, ENTRIES23, 104, 14, 39.5)

# ---------------------------------------------------------------- x-axis title (HTML text)
title_html = (
    '<div style="position:relative; left:416px; top:3px; white-space:nowrap; '
    'font-family:\'Liberation Serif\', serif; font-size:38px; line-height:44px; color:black;">'
    '<i>%s</i><span style="font-size:27px; position:relative; top:8px;">%s</span>'
    '<span style="margin-left:9px;">%s</span></div>'
) % tuple(X_TITLE_PARTS)
xtitle = Div(text=title_html, width=FIG_W, height=52, margin=0)

layout = column(p1, p2, p3, xtitle, spacing=0)
open("out.html", "w").write(file_html(layout, INLINE))
